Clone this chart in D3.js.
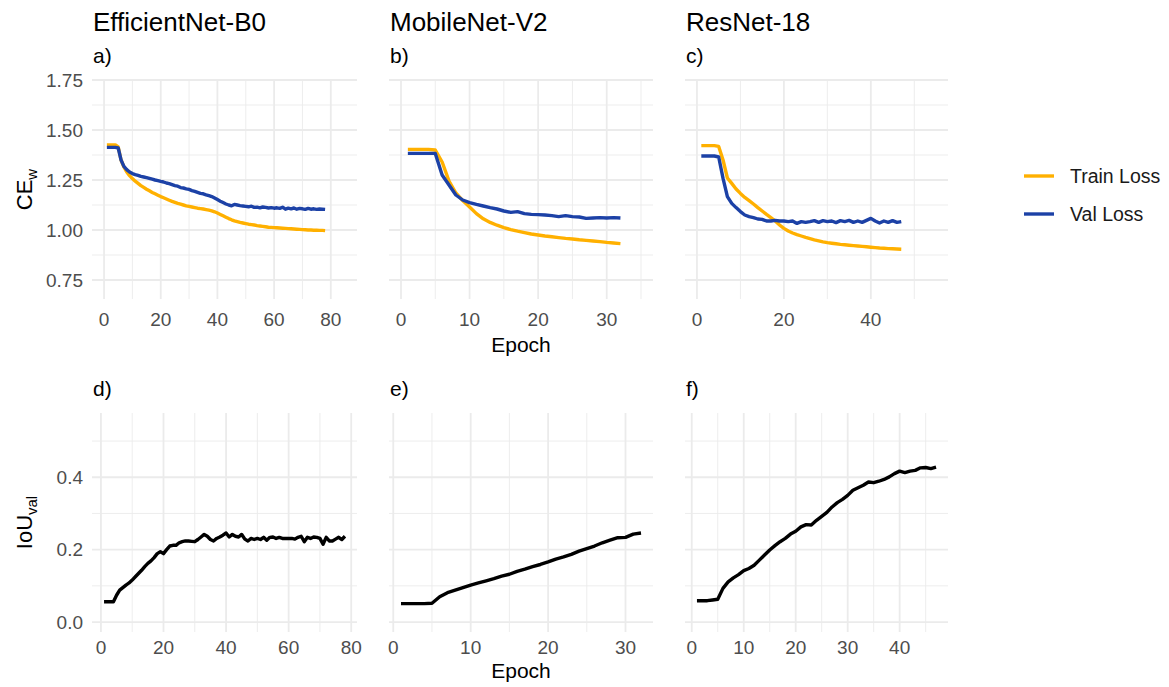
<!DOCTYPE html>
<html>
<head>
<meta charset="utf-8">
<script src="https://cdn.jsdelivr.net/npm/d3@7"></script>
<style>
  html, body { margin: 0; padding: 0; background: #fff; }
  text { font-family: "Liberation Sans", Arial, sans-serif; }
</style>
</head>
<body>
<div id="chart"></div>
<script>
// model names and panel tags
var modelNames = ["EfficientNet-B0", "MobileNet-V2", "ResNet-18"];
var lossTags = ["a)", "b)", "c)"];
var iouTags = ["d)", "e)", "f)"];
var legendLabels = ["Train Loss", "Val Loss"];

// tick labels
var lossTicks = [0.75, 1.00, 1.25, 1.50, 1.75];
var iouTicks = [0.0, 0.2, 0.4];
var lossEpochTicks = [[0, 20, 40, 60, 80], [0, 10, 20, 30], [0, 20, 40]];
var iouEpochTicks = [[0, 20, 40, 60, 80], [0, 10, 20, 30], [0, 10, 20, 30, 40]];

// EfficientNet-B0, one value per epoch (1..78)
var trainLossEff = [1.425,1.425,1.425,1.425,1.415,1.350,1.315,1.290,1.272,1.257,
  1.244,1.233,1.222,1.213,1.204,1.196,1.188,1.181,1.174,1.167,
  1.161,1.155,1.149,1.143,1.138,1.133,1.129,1.125,1.121,1.118,
  1.115,1.112,1.109,1.107,1.105,1.102,1.099,1.096,1.091,1.085,
  1.078,1.071,1.064,1.057,1.051,1.046,1.042,1.038,1.035,1.032,
  1.029,1.027,1.025,1.022,1.020,1.018,1.016,1.014,1.013,1.012,
  1.011,1.010,1.009,1.008,1.007,1.006,1.005,1.004,1.003,1.002,
  1.001,1.000,1.000,0.999,0.999,0.998,0.998,0.997];
var valLossEff = [1.413,1.413,1.413,1.413,1.410,1.350,1.318,1.302,1.290,1.282,
  1.277,1.273,1.268,1.265,1.262,1.258,1.254,1.250,1.247,1.243,
  1.240,1.235,1.232,1.227,1.222,1.219,1.212,1.210,1.206,1.203,
  1.197,1.193,1.188,1.183,1.181,1.176,1.172,1.167,1.160,1.152,
  1.144,1.137,1.130,1.125,1.121,1.128,1.125,1.122,1.120,1.118,
  1.116,1.119,1.113,1.114,1.111,1.115,1.113,1.110,1.112,1.109,
  1.111,1.108,1.114,1.104,1.109,1.106,1.110,1.104,1.108,1.106,
  1.103,1.108,1.104,1.106,1.103,1.105,1.104,1.103];
var iouEff = [0.056,0.056,0.056,0.056,0.074,0.088,0.095,0.102,0.108,0.116,
  0.125,0.134,0.143,0.153,0.162,0.169,0.178,0.189,0.194,0.189,
  0.200,0.210,0.212,0.212,0.219,0.222,0.224,0.224,0.223,0.222,
  0.228,0.235,0.242,0.237,0.228,0.224,0.231,0.235,0.240,0.246,
  0.235,0.242,0.237,0.235,0.242,0.229,0.224,0.231,0.228,0.231,
  0.228,0.234,0.226,0.234,0.235,0.231,0.234,0.231,0.231,0.231,
  0.231,0.229,0.234,0.237,0.222,0.234,0.231,0.235,0.234,0.231,
  0.215,0.234,0.224,0.224,0.229,0.234,0.228,0.237];

// MobileNet-V2 (1..32)
var trainLossMob = [1.403,1.403,1.403,1.403,1.400,1.340,1.245,1.185,1.147,1.115,
  1.082,1.056,1.038,1.024,1.012,1.002,0.994,0.987,0.980,0.975,
  0.970,0.966,0.962,0.958,0.955,0.951,0.948,0.945,0.942,0.938,
  0.935,0.932];
var valLossMob = [1.383,1.383,1.383,1.383,1.383,1.275,1.225,1.175,1.150,1.137,
  1.128,1.120,1.112,1.105,1.095,1.088,1.092,1.082,1.078,1.077,
  1.075,1.072,1.067,1.072,1.067,1.065,1.058,1.060,1.062,1.060,
  1.062,1.060];
var iouMob = [0.051,0.051,0.051,0.051,0.052,0.070,0.081,0.088,0.095,0.102,
  0.108,0.114,0.120,0.127,0.132,0.140,0.146,0.153,0.159,0.166,
  0.174,0.180,0.187,0.196,0.203,0.210,0.219,0.226,0.233,0.234,
  0.243,0.246];

// ResNet-18 (1..47)
var trainLossRes = [1.422,1.422,1.422,1.422,1.418,1.350,1.260,1.233,1.205,1.183,
  1.163,1.147,1.130,1.112,1.095,1.078,1.062,1.045,1.025,1.008,
  0.995,0.985,0.977,0.970,0.963,0.957,0.951,0.946,0.941,0.937,
  0.934,0.931,0.928,0.926,0.924,0.922,0.920,0.918,0.916,0.914,
  0.912,0.910,0.909,0.907,0.906,0.905,0.904];
var valLossRes = [1.370,1.370,1.370,1.370,1.365,1.258,1.167,1.133,1.112,1.092,
  1.075,1.067,1.062,1.055,1.053,1.045,1.045,1.048,1.045,1.045,
  1.042,1.045,1.033,1.042,1.038,1.042,1.047,1.038,1.047,1.042,
  1.045,1.037,1.047,1.042,1.048,1.038,1.045,1.038,1.048,1.058,
  1.045,1.035,1.045,1.038,1.047,1.038,1.042];
var iouRes = [0.059,0.059,0.059,0.061,0.063,0.093,0.111,0.122,0.131,0.142,
  0.148,0.157,0.171,0.185,0.199,0.211,0.222,0.231,0.243,0.251,
  0.263,0.269,0.268,0.281,0.292,0.303,0.318,0.330,0.339,0.350,
  0.364,0.371,0.378,0.387,0.385,0.389,0.394,0.401,0.410,0.417,
  0.413,0.417,0.419,0.426,0.427,0.424,0.428];

var trainColor = "#FFB000";
var valColor = "#1C41A6";
var gridColor = "#ebebeb";
var tickColor = "#4d4d4d";

var width = 1169, height = 687;
var colX = [[92, 357], [389, 653], [685, 948]];
var lossRowY = [80, 299];
var iouRowY = [413, 632];

// x domains of each panel (epoch axis with ggplot-like padding)
var lossXDomains = [[-4.25, 89.25], [-1.75, 36.75], [-2.75, 57.75]];
var iouXDomains = [[-2.85, 81.85], [-0.55, 33.55], [-1.3, 49.3]];

var svg = d3.select("#chart")
  .append("svg")
  .attr("width", width)
  .attr("height", height);

var yLoss = d3.scaleLinear()
  .domain([0.655, 1.75])
  .range([lossRowY[1], lossRowY[0]]);

var yIou = d3.scaleLinear()
  .domain([-0.0275, 0.5775])
  .range([iouRowY[1], iouRowY[0]]);

// minor breaks halfway between the majors, kept inside the domain
function minorBreaks(ticks, domain) {
  var step = ticks[1] - ticks[0];
  var out = [];
  for (var v = ticks[0] - step / 2; v <= domain[1]; v += step) {
    if (v >= domain[0]) out.push(v);
  }
  return out;
}

function drawPanel(opts) {
  var x = d3.scaleLinear()
    .domain(opts.xDomain)
    .range(opts.xRange);
  var y = opts.y;
  var yr = y.range();
  var g = svg.append("g").attr("class", "panel");

  // minor grid
  g.selectAll(".vminor")
    .data(minorBreaks(opts.xTicks, opts.xDomain))
    .enter().append("line")
    .attr("x1", function(d) { return x(d); })
    .attr("x2", function(d) { return x(d); })
    .attr("y1", yr[1]).attr("y2", yr[0])
    .attr("stroke", gridColor).attr("stroke-width", 0.9);
  g.selectAll(".hminor")
    .data(minorBreaks(opts.yTicks, y.domain()))
    .enter().append("line")
    .attr("x1", opts.xRange[0]).attr("x2", opts.xRange[1])
    .attr("y1", function(d) { return y(d); })
    .attr("y2", function(d) { return y(d); })
    .attr("stroke", gridColor).attr("stroke-width", 0.9);

  // major grid
  g.selectAll(".vmajor")
    .data(opts.xTicks)
    .enter().append("line")
    .attr("x1", function(d) { return x(d); })
    .attr("x2", function(d) { return x(d); })
    .attr("y1", yr[1]).attr("y2", yr[0])
    .attr("stroke", gridColor).attr("stroke-width", 1.8);
  g.selectAll(".hmajor")
    .data(opts.yTicks)
    .enter().append("line")
    .attr("x1", opts.xRange[0]).attr("x2", opts.xRange[1])
    .attr("y1", function(d) { return y(d); })
    .attr("y2", function(d) { return y(d); })
    .attr("stroke", gridColor).attr("stroke-width", 1.8);

  // x tick labels
  g.selectAll(".xlab")
    .data(opts.xTicks)
    .enter().append("text")
    .attr("x", function(d) { return x(d); })
    .attr("y", yr[0] + opts.xLabelGap)
    .attr("text-anchor", "middle")
    .attr("font-size", "19px")
    .attr("fill", tickColor)
    .text(function(d) { return d; });

  // y tick labels only on the first column
  if (opts.showY) {
    g.selectAll(".ylab")
      .data(opts.yTicks)
      .enter().append("text")
      .attr("x", opts.xRange[0] - 9)
      .attr("y", function(d) { return y(d); })
      .attr("dy", "0.36em")
      .attr("text-anchor", "end")
      .attr("font-size", "19px")
      .attr("fill", tickColor)
      .text(function(d) { return opts.yFormat(d); });
  }

  var line = d3.line()
    .x(function(d, i) { return x(i + 1); })
    .y(function(d) { return y(d); });

  opts.series.forEach(function(s) {
    g.append("path")
      .datum(s.values)
      .attr("d", line)
      .attr("fill", "none")
      .attr("stroke", s.color)
      .attr("stroke-width", 3.4)
      .attr("stroke-linejoin", "round")
      .attr("stroke-linecap", "butt");
  });

  // tag like "a)"
  g.append("text")
    .attr("x", opts.xRange[0] + 1)
    .attr("y", yr[1] - 17)
    .attr("font-size", "21px")
    .attr("fill", "#000")
    .text(opts.tag);
}

var lossSeries = [[trainLossEff, valLossEff], [trainLossMob, valLossMob], [trainLossRes, valLossRes]];
var iouSeries = [iouEff, iouMob, iouRes];

modelNames.forEach(function(name, i) {
  drawPanel({
    xDomain: lossXDomains[i],
    xRange: colX[i],
    xTicks: lossEpochTicks[i],
    xLabelGap: 27,
    y: yLoss,
    yTicks: lossTicks,
    yFormat: d3.format(".2f"),
    showY: i === 0,
    tag: lossTags[i],
    series: [
      {values: lossSeries[i][0], color: trainColor},
      {values: lossSeries[i][1], color: valColor}
    ]
  });
  drawPanel({
    xDomain: iouXDomains[i],
    xRange: colX[i],
    xTicks: iouEpochTicks[i],
    xLabelGap: 22,
    y: yIou,
    yTicks: iouTicks,
    yFormat: d3.format(".1f"),
    showY: i === 0,
    tag: iouTags[i],
    series: [{values: iouSeries[i], color: "#000"}]
  });

  // column title
  svg.append("text")
    .attr("x", colX[i][0] + 1)
    .attr("y", 31)
    .attr("font-size", "26px")
    .attr("fill", "#000")
    .text(name);
});

// axis titles
svg.selectAll(".epoch-title")
  .data([lossRowY[1] + 53, iouRowY[1] + 46])
  .enter().append("text")
  .attr("x", (colX[1][0] + colX[1][1]) / 2)
  .attr("y", function(d) { return d; })
  .attr("text-anchor", "middle")
  .attr("font-size", "21px")
  .attr("fill", "#000")
  .text("Epoch");

var ceTitle = svg.append("text")
  .attr("transform", "translate(32," + ((lossRowY[0] + lossRowY[1]) / 2) + ") rotate(-90)")
  .attr("text-anchor", "middle")
  .attr("font-size", "22px")
  .attr("fill", "#000");
ceTitle.append("tspan").text("CE");
ceTitle.append("tspan").attr("dy", 5).attr("font-size", "15px").text("w");

var iouTitle = svg.append("text")
  .attr("transform", "translate(32," + ((iouRowY[0] + iouRowY[1]) / 2) + ") rotate(-90)")
  .attr("text-anchor", "middle")
  .attr("font-size", "22px")
  .attr("fill", "#000");
iouTitle.append("tspan").text("IoU");
iouTitle.append("tspan").attr("dy", 5).attr("font-size", "15px").text("val");

// legend
var legend = svg.append("g")
  .attr("class", "legend")
  .attr("transform", "translate(1024,176)");

legend.selectAll("line")
  .data(legendLabels)
  .enter().append("line")
  .attr("x1", 0).attr("x2", 30)
  .attr("y1", function(d, i) { return i * 38; })
  .attr("y2", function(d, i) { return i * 38; })
  .attr("stroke", function(d, i) { return i === 0 ? trainColor : valColor; })
  .attr("stroke-width", 3.4);

legend.selectAll("text")
  .data(legendLabels)
  .enter().append("text")
  .attr("x", 46)
  .attr("y", function(d, i) { return i * 38; })
  .attr("dy", "0.36em")
  .attr("font-size", "19.5px")
  .attr("fill", "#1a1a1a")
  .text(function(d) { return d; });
</script>
</body>
</html>
